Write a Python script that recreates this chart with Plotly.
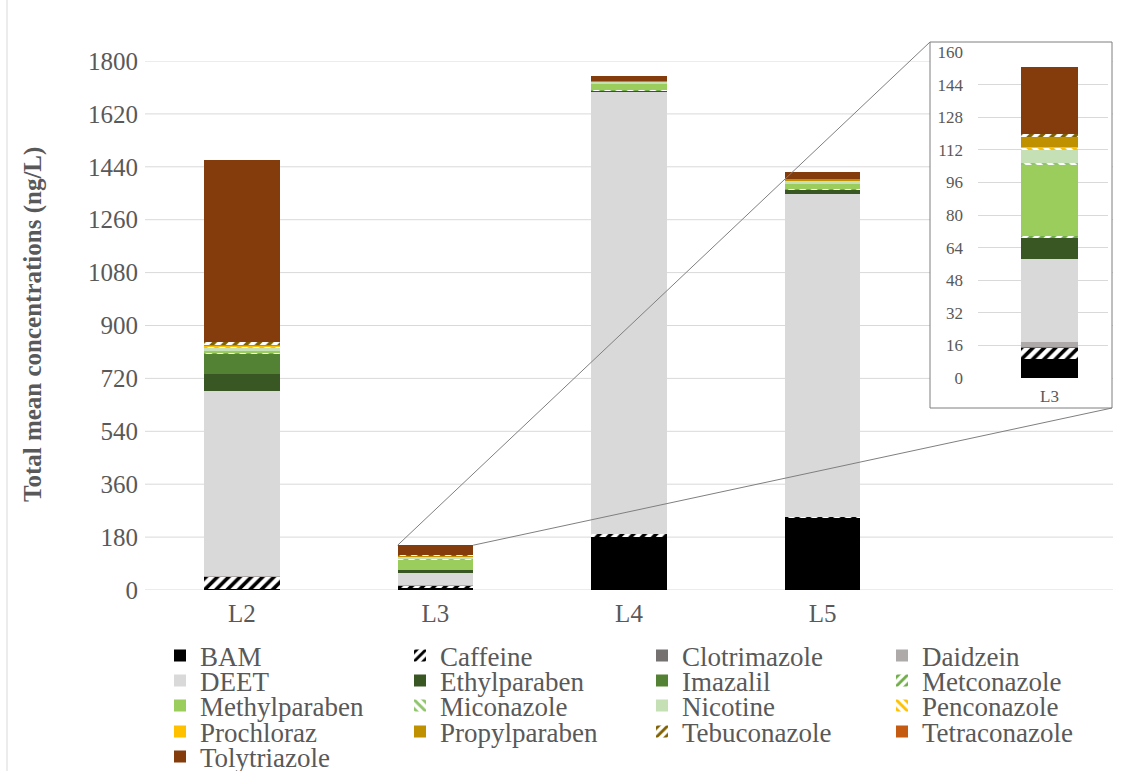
import plotly.graph_objects as go

# ---- data (ng/L), one value per site ----
sites = ["L2", "L3", "L4", "L5"]
inset_site = "L3"

bam = [5, 9.5, 180, 248]
caffeine = [40, 5.4, 12, 2]
clotrimazole = [0, 0.4, 0, 0]
daidzein = [2, 2.2, 0, 0]
deet = [630, 40.8, 1501, 1099]
ethylparaben = [58, 10.7, 7, 15]
imazalil = [71, 0, 0, 0]
metconazole = [2, 0.5, 1, 1]
methylparaben = [4, 35.4, 24, 17]
miconazole = [0, 0.5, 0, 0]
nicotine = [12, 6.9, 4, 10]
penconazole = [3, 0.8, 0, 0]
prochloraz = [6, 0.5, 1, 2]
propylparaben = [4, 4.9, 3, 5]
tebuconazole = [6, 1.1, 0, 0]
tetraconazole = [0, 0, 0, 0]
tolytriazole = [619, 32.8, 17, 23]

main_ticks = list(range(0, 1801, 180))
inset_ticks = list(range(0, 161, 16))

series = [
    ("BAM", bam), ("Caffeine", caffeine), ("Clotrimazole", clotrimazole),
    ("Daidzein", daidzein), ("DEET", deet), ("Ethylparaben", ethylparaben),
    ("Imazalil", imazalil), ("Metconazole", metconazole),
    ("Methylparaben", methylparaben), ("Miconazole", miconazole),
    ("Nicotine", nicotine), ("Penconazole", penconazole),
    ("Prochloraz", prochloraz), ("Propylparaben", propylparaben),
    ("Tebuconazole", tebuconazole), ("Tetraconazole", tetraconazole),
    ("Tolytriazole", tolytriazole),
]

# ---- styles ----
solid = {
    "BAM": "#000000", "Clotrimazole": "#767171", "Daidzein": "#AEAAAA",
    "DEET": "#D9D9D9", "Ethylparaben": "#385723", "Imazalil": "#548235",
    "Methylparaben": "#9BCD5C", "Nicotine": "#C5E0B4", "Prochloraz": "#FFC000",
    "Propylparaben": "#BF9000", "Tetraconazole": "#C55A11",
    "Tolytriazole": "#843C0C",
}
hatched = {
    "Caffeine": ("/", "#000000"), "Metconazole": ("/", "#70AD47"),
    "Miconazole": ("\\", "#8FC46A"), "Penconazole": ("\\", "#FFC000"),
    "Tebuconazole": ("/", "#7F6000"),
}

SERIF = "Liberation Serif"
TXT = "#595959"
GRID = "#D9D9D9"
W, H = 1127, 771
ML, MR, MT, MB = 145, 14, 40, 181
PW, PH = W - ML - MR, H - MT - MB
Y_TOP = 529 / PH          # main y-axis domain top
BAR_W = 0.39
N_SLOTS = 5

# legend grid: 4 columns (text start, px) x 5 rows (centre, px)
LEG_COLS = [200, 440, 682, 922]
LEG_ROWS = [656, 681, 706, 732, 757]


def px_x(p):
    return (p - ML) / PW


def px_y(p):
    return (H - MB - p) / PH


def marker_for(name):
    if name in hatched:
        shape, fg = hatched[name]
        return dict(color="white", line=dict(width=0),
                    pattern=dict(shape=shape, fgcolor=fg, bgcolor="white",
                                 size=8, solidity=0.45, fillmode="replace"))
    return dict(color=solid[name], line=dict(width=0))


fig = go.Figure()
k = sites.index(inset_site)
legends = {}

for i, (name, vals) in enumerate(series):
    lid = "legend" if i == 0 else f"legend{i + 1}"
    legends[lid] = dict(
        orientation="h", x=px_x(LEG_COLS[i % 4] - 40), xanchor="left",
        y=px_y(LEG_ROWS[i // 4]), yanchor="middle",
        bgcolor="rgba(0,0,0,0)", font=dict(family=SERIF, size=27, color=TXT),
        itemclick=False, itemdoubleclick=False,
    )
    fig.add_trace(go.Bar(
        x=sites, y=vals, name=name, marker=marker_for(name),
        legend=lid, hoverinfo="x+y+name",
    ))
for name, vals in series:
    fig.add_trace(go.Bar(
        x=[inset_site], y=[vals[k]], name=name, marker=marker_for(name),
        xaxis="x2", yaxis="y2", width=0.44, showlegend=False,
    ))

# gridlines of the main axis, then the white inset panel on top of them
shapes = []
for t in main_ticks:
    shapes.append(dict(type="line", xref="paper", yref="y", x0=0, x1=1,
                       y0=t, y1=t, line=dict(color=GRID, width=1),
                       layer="below"))
bx0, bx1 = px_x(930), px_x(1112)
by0, by1 = px_y(408), px_y(42)
shapes.append(dict(type="rect", xref="paper", yref="paper", x0=bx0, x1=bx1,
                   y0=by0, y1=by1, fillcolor="white",
                   line=dict(color="#7F7F7F", width=1), layer="below"))

# zoom connectors from the L3 bar top to the inset panel
l3_total = sum(v[k] for _, v in series)
top_y = l3_total / main_ticks[-1] * Y_TOP
left_x = (k - BAR_W / 2 + 0.5) / N_SLOTS
right_x = (k + BAR_W / 2 + 0.5) / N_SLOTS
shapes.append(dict(type="line", xref="paper", yref="paper", x0=left_x,
                   y0=top_y, x1=bx0, y1=by1,
                   line=dict(color="#7F7F7F", width=1), layer="above"))
shapes.append(dict(type="line", xref="paper", yref="paper", x0=right_x,
                   y0=top_y, x1=bx1, y1=by0,
                   line=dict(color="#7F7F7F", width=1), layer="above"))
# chart frame edge on the left
shapes.append(dict(type="line", xref="paper", yref="paper", x0=px_x(7),
                   x1=px_x(7), y0=px_y(H), y1=px_y(0),
                   line=dict(color=GRID, width=1), layer="below"))

fig.update_layout(
    width=W, height=H,
    margin=dict(l=ML, r=MR, t=MT, b=MB, autoexpand=False),
    paper_bgcolor="white", plot_bgcolor="rgba(0,0,0,0)",
    barmode="stack", bargap=1 - BAR_W, showlegend=True,
    font=dict(family=SERIF, color=TXT),
    xaxis=dict(type="category", categoryorder="array", categoryarray=sites,
               range=[-0.5, N_SLOTS - 0.5], showgrid=False, zeroline=False,
               showline=False, ticks="", tickfont=dict(size=25, color=TXT),
               domain=[0, 1], anchor="y", ticklabelstandoff=6),
    yaxis=dict(range=[0, main_ticks[-1]], tickvals=main_ticks,
               showgrid=False, zeroline=False, showline=False, ticks="",
               tickfont=dict(size=25, color=TXT), domain=[0, Y_TOP],
               anchor="x", ticklabelstandoff=6),
    xaxis2=dict(type="category", categoryarray=[inset_site],
                range=[-0.55, 0.45], domain=[px_x(978), px_x(1108)],
                anchor="y2", showgrid=False, zeroline=False, showline=False,
                ticks="", tickfont=dict(size=17, color=TXT),
                ticklabelstandoff=6),
    yaxis2=dict(range=[0, inset_ticks[-1]], tickvals=inset_ticks,
                domain=[px_y(378), px_y(52)], anchor="x2", showgrid=True,
                gridcolor=GRID, gridwidth=1, zeroline=False, showline=False,
                ticks="", tickfont=dict(size=17, color=TXT),
                ticklabelstandoff=14),
    shapes=shapes,
    annotations=[dict(
        text="<b>Total mean concentrations (ng/L)</b>", textangle=-90,
        xref="paper", yref="paper", x=px_x(33), y=px_y(325),
        xanchor="center", yanchor="middle", showarrow=False,
        font=dict(family=SERIF, size=25, color=TXT),
    )],
    **legends,
)

fig.write_html("out.html")
